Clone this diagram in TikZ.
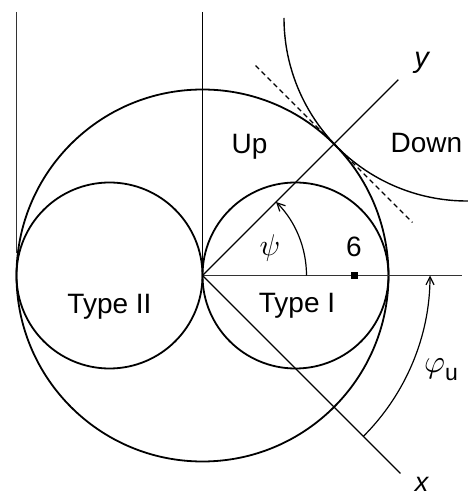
\documentclass[tikz,border=0pt]{standalone}
\usepackage{graphicx}
\usepackage{fontspec}
\setmainfont{Liberation Sans}
\usetikzlibrary{arrows.meta,calc}
\begin{document}
\begin{tikzpicture}[x=1pt,y=1pt,
  circ/.style={line width=1.8pt},
  axis/.style={line width=1.4pt},
  thin line/.style={line width=1.1pt, black!80},
  lbl/.style={inner sep=0pt, anchor=base, font=\fontsize{28}{28}\selectfont},
  angarrow/.style={line width=1.2pt, -{Straight Barb[length=8pt,width=8pt,line width=1.2pt]}}]
\useasboundingbox (0,0) rectangle (468,496);
\fill[white] (0,0) rectangle (468,496);
% key points
\coordinate (O) at (202.5,220.5);
\coordinate (LT) at (16.5,484);
\coordinate (LB) at (16.5,243);
\coordinate (CT) at (202.5,484);
\coordinate (HR) at (462,220.5);
\coordinate (YE) at ($(O)+(45:277)$);
\coordinate (XE) at ($(O)+(-45:280)$);
\coordinate (T) at ($(O)+(45:186)$);
\coordinate (D1) at ($(T)+(135:111)$);
\coordinate (D2) at ($(T)+(-45:111)$);
\coordinate (DC) at (467,478);
% circles
\draw[circ] (O) circle[radius=186];
\draw[circ] (109.5,220.5) circle[radius=93];
\draw[circ] (295.5,220.5) circle[radius=93];
\draw[line width=1.4pt] (DC) ++(180:183) arc[start angle=180,end angle=271,radius=183];
% lines
\draw[thin line] (LT) -- (LB);
\draw[axis] (CT) -- (O);
\draw[thin line] (O) -- (HR);
\draw[axis] (O) -- (YE);
\draw[axis] (O) -- (XE);
\draw[line width=1.2pt, dash pattern=on 5pt off 3.5pt] (D1) -- (D2);
% angle arcs
\draw[angarrow] ($(O)+(0:104)$) arc[start angle=0,end angle=45,radius=104];
\draw[angarrow] ($(O)+(-45:227.5)$) arc[start angle=-45,end angle=0,radius=227.5];
% marker
\node[fill=black, minimum size=7pt, inner sep=0pt] (M) at (354,220.5) {};
% labels
\node[lbl] (up) at (249.5,342) {Up};
\node[lbl] (down) at (426.5,343) {Down};
\node[lbl] (t2) at (109.5,182) {Type II};
\node[lbl] (t1) at (297,183) {Type I};
\node[lbl] (six) at (354,239) {6};
\node[lbl, font=\fontsize{29}{29}\selectfont\itshape] (ylab) at (421.5,428) {y};
\node[lbl, font=\fontsize{27}{27}\selectfont\itshape] (xlab) at (421.5,5) {x};
\node[inner sep=0pt] (psi) at (270,248) {\scalebox{3.0}{$\psi$}};
\node[inner sep=0pt, anchor=base west] (phi) at (424,123) {\scalebox{3.2}{$\varphi$}\raisebox{-8pt}{\fontsize{23}{23}\selectfont u}};
\end{tikzpicture}
\end{document}
